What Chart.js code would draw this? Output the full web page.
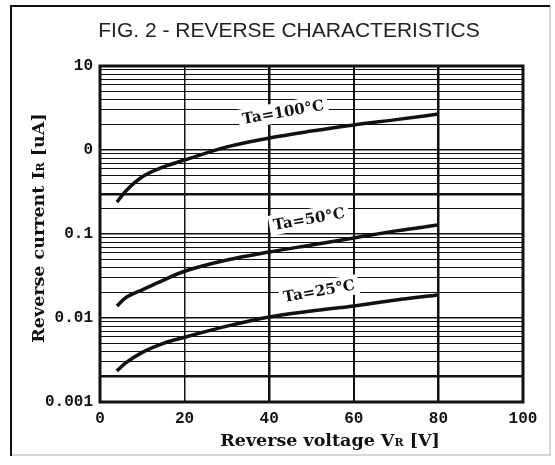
<!DOCTYPE html>
<html>
<head>
<meta charset="utf-8">
<script src="https://cdn.jsdelivr.net/npm/chart.js@4"></script>
<style>
  html, body { margin: 0; padding: 0; background: #fff; }
  #wrap { position: relative; width: 555px; height: 465px; }
</style>
</head>
<body>
<div id="wrap"><canvas id="chart"></canvas></div>
<script>
// values (reverse voltage V, current uA)
const voltages = [4, 6, 10, 15, 20, 30, 40, 50, 60, 70, 80];
const ta100 = [0.24, 0.32, 0.48, 0.63, 0.76, 1.09, 1.39, 1.68, 1.99, 2.3, 2.68];
const ta50 = [0.0139, 0.0173, 0.0216, 0.0283, 0.036, 0.049, 0.061, 0.074, 0.0896, 0.109, 0.128];
const ta25 = [0.00234, 0.0029, 0.0039, 0.005, 0.0059, 0.008, 0.0103, 0.0121, 0.0139, 0.0164, 0.0188];

const xTicks = [0, 20, 40, 60, 80, 100];
const yTicks = [0.001, 0.01, 0.1, 1, 10];
const yTickLabels = ["0.001", "0.01", "0.1", "0", "10"]; // the "1" prints as "0" in the scan

// curve labels: text + where they sit (data coords)
const curveNames = ["Ta=100°C", "Ta=50°C", "Ta=25°C"];
const curveLabelX = [43.3, 49.4, 51.8];
const curveLabelY = [2.83, 0.151, 0.021];

// gridlines: every 1..9 multiple inside each decade
const yGrid = [];
for (let d = 0.001; d < 10; d *= 10) {
  for (let m = 1; m < 10; m++) yGrid.push(+(d * m).toPrecision(3));
}
yGrid.push(10);

const thickY = [0.3, 0.002];
const xWidths = { 20: 1.5, 40: 2.5, 60: 2, 80: 2.5 };
const ink = "#111";

const same = (a, b) => Math.abs(a - b) / b < 1e-6;

const toPoints = (ys) => voltages.map((v, i) => ({ x: v, y: ys[i] }));

const framePlugin = {
  id: "frame",
  beforeDraw(chart) {
    const c = chart.ctx;
    c.save();
    c.fillStyle = "#fff";
    c.fillRect(0, 0, chart.width, chart.height);
    c.strokeStyle = "#c8c8c8";
    c.lineWidth = 1.5;
    c.strokeRect(11, 6, 539, 449);
    c.strokeStyle = ink;
    c.lineWidth = 2;
    c.beginPath();
    c.moveTo(11, 456);
    c.lineTo(11, 6);
    c.lineTo(550, 6);
    c.stroke();
    c.restore();
  },
  afterDatasetsDraw(chart) {
    const c = chart.ctx;
    const { x, y } = chart.scales;
    c.save();
    c.font = "bold 15px 'DejaVu Serif'";
    c.textAlign = "center";
    c.textBaseline = "middle";
    curveNames.forEach((name, i) => {
      const px = x.getPixelForValue(curveLabelX[i]);
      const py = y.getPixelForValue(curveLabelY[i]);
      c.save();
      c.translate(px, py);
      c.rotate((-10 * Math.PI) / 180);
      const w = c.measureText(name).width + 8;
      c.fillStyle = "#fff";
      c.fillRect(-w / 2, -10, w, 20);
      c.fillStyle = ink;
      c.fillText(name, 0, 1);
      c.restore();
    });
    c.restore();
  },
  afterDraw(chart) {
    const c = chart.ctx;
    const a = chart.chartArea;
    c.save();
    // plot box
    c.strokeStyle = ink;
    c.lineWidth = 3;
    c.strokeRect(a.left, a.top, a.right - a.left, a.bottom - a.top);

    // title
    c.fillStyle = "#222";
    c.font = "21px 'Liberation Sans'";
    c.textAlign = "center";
    c.textBaseline = "middle";
    c.fillText("FIG. 2 - REVERSE CHARACTERISTICS", 289, 31);

    // axis titles with small subscript R
    c.fillStyle = ink;
    const big = "bold 17.5px 'DejaVu Serif'";
    const small = "bold 11px 'DejaVu Serif'";
    const drawParts = (parts, cx, cy) => {
      let total = 0;
      parts.forEach((p) => {
        c.font = p[1];
        total += c.measureText(p[0]).width;
      });
      let cur = cx - total / 2;
      c.textAlign = "left";
      c.textBaseline = "alphabetic";
      parts.forEach((p) => {
        c.font = p[1];
        c.fillText(p[0], cur, cy);
        cur += c.measureText(p[0]).width;
      });
    };
    drawParts(
      [["Reverse voltage V", big], ["R", small], [" [V]", big]],
      330,
      446
    );
    c.save();
    c.translate(44, 228);
    c.rotate(-Math.PI / 2);
    drawParts(
      [["Reverse current I", big], ["R", small], [" [uA]", big]],
      0,
      0
    );
    c.restore();
    c.restore();
  },
};

const curveStyle = {
  borderColor: ink,
  borderWidth: 3.5,
  pointRadius: 0,
  fill: false,
  cubicInterpolationMode: "monotone",
};

new Chart(document.getElementById("chart"), {
  type: "line",
  data: {
    datasets: [
      { label: curveNames[0], data: toPoints(ta100), ...curveStyle },
      { label: curveNames[1], data: toPoints(ta50), ...curveStyle },
      { label: curveNames[2], data: toPoints(ta25), ...curveStyle },
    ],
  },
  options: {
    responsive: true,
    maintainAspectRatio: false,
    animation: false,
    layout: { padding: { top: 66, right: 32, bottom: 0, left: 0 } },
    plugins: {
      legend: { display: false },
      tooltip: { enabled: false },
    },
    scales: {
      x: {
        type: "linear",
        min: 0,
        max: 100,
        afterBuildTicks: (axis) => {
          axis.ticks = xTicks.map((v) => ({ value: v }));
        },
        afterFit: (axis) => {
          axis.height = 63;
        },
        border: { display: false },
        grid: {
          color: ink,
          drawTicks: false,
          lineWidth: (ctx) => (ctx.tick ? xWidths[ctx.tick.value] || 1 : 1),
        },
        ticks: {
          color: ink,
          padding: 7,
          maxRotation: 0,
          font: { family: "Liberation Mono", size: 16, weight: "bold" },
        },
      },
      y: {
        type: "logarithmic",
        min: 0.001,
        max: 10,
        afterBuildTicks: (axis) => {
          axis.ticks = yGrid.map((v) => ({ value: v }));
        },
        afterFit: (axis) => {
          axis.width = 100;
        },
        border: { display: false },
        grid: {
          color: ink,
          drawTicks: false,
          lineWidth: (ctx) => {
            if (!ctx.tick) return 1;
            const v = ctx.tick.value;
            if (thickY.some((t) => same(v, t))) return 2.5;
            if (yTicks.some((t) => same(v, t))) return 1.5;
            return 1;
          },
        },
        ticks: {
          color: ink,
          padding: 7,
          autoSkip: false,
          font: { family: "Liberation Mono", size: 16, weight: "bold" },
          callback: (value) => {
            const i = yTicks.findIndex((t) => same(value, t));
            return i >= 0 ? yTickLabels[i] : "";
          },
        },
      },
    },
  },
  plugins: [framePlugin],
});
</script>
</body>
</html>
